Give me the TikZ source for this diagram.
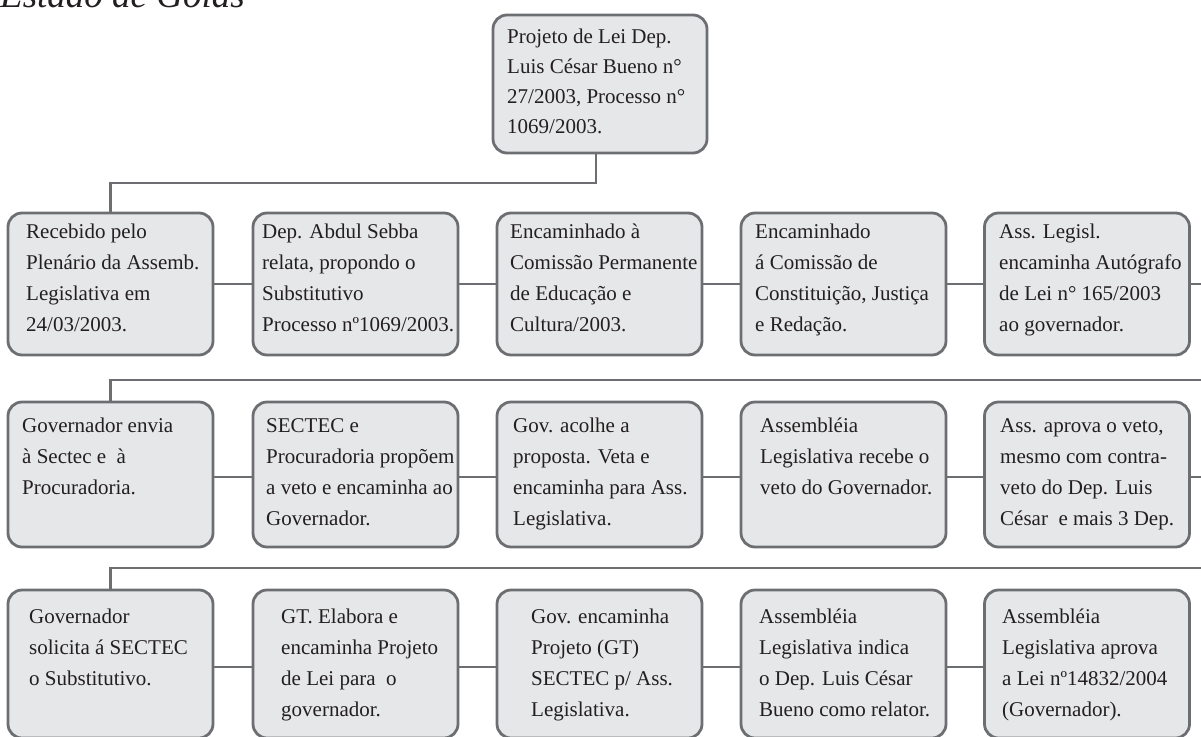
\documentclass[tikz,border=0pt]{standalone}
\usepackage{fontspec}
\setmainfont{Liberation Serif}
\usetikzlibrary{calc}
\definecolor{boxfill}{HTML}{E6E7E8}
\definecolor{edge}{HTML}{6D6E71}
\definecolor{ink}{HTML}{231F20}
\newcommand{\bxt}[1]{\parbox[t]{215pt}{\raggedright #1}}
\begin{document}
\begin{tikzpicture}[x=1pt,y=-1pt,
  box/.style={draw=edge, fill=boxfill, line width=2.8pt, rounded corners=14pt,
    minimum width=205pt, minimum height=142pt, inner sep=0pt},
  toprow/.style={minimum height=142pt},
  midrow/.style={minimum height=145pt},
  lowrow/.style={minimum height=148pt},
  txt/.style={anchor=base west, inner sep=0pt, text=ink, font=\fontsize{21}{31}\selectfont},
  link/.style={draw=edge, line width=2.8pt}]
\useasboundingbox (0,0) rectangle (1201,736);
\clip (0,0) rectangle (1201,736);

% title (cut off at the top in the reference)
\node[anchor=base west, inner sep=0pt, text=ink, font=\fontsize{37}{40}\selectfont\itshape] (title) at (0,7) {Estado de Goiás};

% top box
\node[box, minimum width=214pt, minimum height=138pt] (top) at (600,84) {};
\node[txt, font=\fontsize{21}{30}\selectfont] (ttop) at (507,43) {\bxt{Projeto de Lei Dep.\\Luis César Bueno n°\\27/2003, Processo n°\\1069/2003.}};

% row 1
\node[box, toprow] (r1c1) at (110.5,284) {};
\node[box, toprow] (r1c2) at (355.5,284) {};
\node[box, toprow] (r1c3) at (599.5,284) {};
\node[box, toprow] (r1c4) at (843.5,284) {};
\node[box, toprow] (r1c5) at (1087,284) {};
\node[txt] (t11) at (26,238) {\bxt{Recebido pelo\\Plenário da Assemb.\\Legislativa em\\24/03/2003.}};
\node[txt] (t12) at (262,238) {\bxt{Dep. Abdul Sebba\\relata, propondo o\\Substitutivo\\Processo nº1069/2003.}};
\node[txt] (t13) at (510,238) {\bxt{Encaminhado à\\Comissão Permanente\\de Educação e\\Cultura/2003.}};
\node[txt] (t14) at (755,238) {\bxt{Encaminhado\\á Comissão de\\Constituição, Justiça\\e Redação.}};
\node[txt] (t15) at (999,238) {\bxt{Ass. Legisl.\\encaminha Autógrafo\\de Lei n° 165/2003\\ao governador.}};

% row 2
\node[box, midrow] (r2c1) at (110.5,474.5) {};
\node[box, midrow] (r2c2) at (355.5,474.5) {};
\node[box, midrow] (r2c3) at (599.5,474.5) {};
\node[box, midrow] (r2c4) at (843.5,474.5) {};
\node[box, midrow] (r2c5) at (1087,474.5) {};
\node[txt] (t21) at (22,432) {\bxt{Governador envia\\à Sectec e\ \ à\\Procuradoria.}};
\node[txt] (t22) at (266,432) {\bxt{SECTEC e\\Procuradoria propõem\\a veto e encaminha ao\\Governador.}};
\node[txt] (t23) at (513,432) {\bxt{Gov. acolhe a\\proposta. Veta e\\encaminha para Ass.\\Legislativa.}};
\node[txt] (t24) at (760,432) {\bxt{Assembléia\\Legislativa recebe o\\veto do Governador.}};
\node[txt] (t25) at (1000,432) {\bxt{Ass. aprova o veto,\\mesmo com contra-\\veto do Dep. Luis\\César\ \ e mais 3 Dep.}};

% row 3
\node[box, lowrow] (r3c1) at (110.5,664) {};
\node[box, lowrow] (r3c2) at (355.5,664) {};
\node[box, lowrow] (r3c3) at (599.5,664) {};
\node[box, lowrow] (r3c4) at (843.5,664) {};
\node[box, lowrow] (r3c5) at (1087,664) {};
\node[txt] (t31) at (29,623) {\bxt{Governador\\solicita á SECTEC\\o Substitutivo.}};
\node[txt] (t32) at (281,623) {\bxt{GT. Elabora e\\encaminha Projeto\\de Lei para\ \ o\\governador.}};
\node[txt] (t33) at (531,623) {\bxt{Gov. encaminha\\Projeto (GT)\\SECTEC p/ Ass.\\Legislativa.}};
\node[txt] (t34) at (759,623) {\bxt{Assembléia\\Legislativa indica\\o Dep. Luis César\\Bueno como relator.}};
\node[txt] (t35) at (1002,623) {\bxt{Assembléia\\Legislativa aprova\\a Lei nº14832/2004\\(Governador).}};

% connectors
\coordinate (j0) at (596,183);
\draw[link] ([xshift=-4pt]top.south) -- (j0) -| (r1c1.north);
\draw[link] (r1c1.east) -- (r1c2.west);
\draw[link] (r1c2.east) -- (r1c3.west);
\draw[link] (r1c3.east) -- (r1c4.west);
\draw[link] (r1c4.east) -- (r1c5.west);
\coordinate (k1) at (1220,380);
\draw[link] (r1c5.east) -| (k1) -| (r2c1.north);
\draw[link] ([yshift=-2.5pt]r2c1.east) -- ([yshift=-2.5pt]r2c2.west);
\draw[link] ([yshift=-2.5pt]r2c2.east) -- ([yshift=-2.5pt]r2c3.west);
\draw[link] ([yshift=-2.5pt]r2c3.east) -- ([yshift=-2.5pt]r2c4.west);
\draw[link] ([yshift=-2.5pt]r2c4.east) -- ([yshift=-2.5pt]r2c5.west);
\coordinate (k2) at (1220,568);
\draw[link] ([yshift=-2.5pt]r2c5.east) -| (k2) -| (r3c1.north);
\draw[link] ([yshift=-3pt]r3c1.east) -- ([yshift=-3pt]r3c2.west);
\draw[link] ([yshift=-3pt]r3c2.east) -- ([yshift=-3pt]r3c3.west);
\draw[link] ([yshift=-3pt]r3c3.east) -- ([yshift=-3pt]r3c4.west);
\draw[link] ([yshift=-3pt]r3c4.east) -- ([yshift=-3pt]r3c5.west);
\end{tikzpicture}
\end{document}
